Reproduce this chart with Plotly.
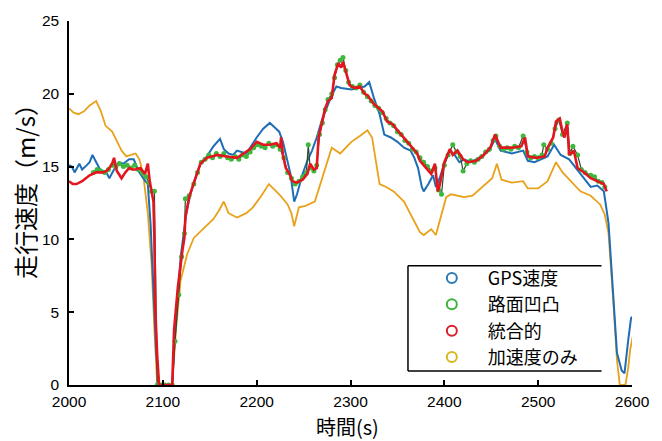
import plotly.graph_objects as go

# ---------------- data ----------------
series_names = ["GPS速度", "路面凹凸", "統合的", "加速度のみ"]

gps_t = [2000, 2003, 2006, 2009, 2011, 2014, 2016, 2019, 2022, 2025, 2029, 2034, 2039, 2043, 2048, 2053,
         2058, 2064, 2069, 2074, 2079, 2084, 2087, 2090, 2093, 2096, 2110, 2113, 2116, 2119, 2122, 2125,
         2129, 2133, 2140, 2147, 2154, 2161, 2165, 2170, 2175, 2179, 2189, 2200, 2207, 2214, 2219, 2224,
         2228, 2233, 2236, 2240, 2243, 2249, 2254, 2259, 2264, 2270, 2275, 2280, 2285, 2290, 2301, 2308,
         2315, 2320, 2325, 2331, 2336, 2343, 2350, 2357, 2364, 2368, 2372, 2376, 2378, 2383, 2388, 2391,
         2395, 2400, 2406, 2411, 2416, 2421, 2428, 2437, 2448, 2454, 2460, 2472, 2484, 2489, 2496, 2503,
         2510, 2517, 2524, 2533, 2540, 2549, 2556, 2563, 2570, 2575, 2580, 2584, 2589, 2592, 2596, 2599, 2601]
gps_v = [15.1, 15.0, 14.6, 15.0, 15.2, 14.8, 14.9, 15.1, 15.3, 15.8, 15.3, 14.7, 14.7, 14.2, 14.8, 15.3,
         15.2, 15.5, 15.5, 14.7, 14.2, 13.8, 11.0, 6.5, 2.0, 0.0, 0.0, 3.5, 6.2, 8.8, 10.3, 11.8,
         13.0, 13.9, 15.2, 15.7, 16.4, 16.9, 16.2, 15.9, 15.8, 16.1, 15.9, 17.0, 17.6, 18.0, 17.7, 17.4,
         16.7, 15.4, 14.5, 12.6, 13.1, 14.5, 15.4, 16.1, 17.0, 18.3, 19.1, 19.9, 20.5, 20.4, 20.3, 20.4,
         20.5, 20.8, 19.7, 18.6, 17.2, 17.0, 16.7, 16.3, 16.1, 15.6, 14.9, 13.6, 13.3, 13.8, 14.4, 13.6,
         14.2, 15.2, 16.1, 15.8, 15.3, 15.5, 15.3, 15.6, 16.1, 16.9, 16.1, 15.9, 16.1, 15.4, 15.3, 15.5,
         15.7, 16.5, 15.8, 15.5, 14.9, 14.2, 13.6, 13.7, 13.3, 11.1, 6.3, 2.2, 1.0, 0.8, 3.1, 4.6, 4.7]

road_t = [2026, 2030, 2034, 2038, 2042, 2046, 2050, 2054, 2058, 2062, 2066, 2070, 2074, 2078, 2082, 2085,
          2088, 2091, 2094, 2098, 2102, 2106, 2110, 2113, 2117, 2120, 2123, 2124, 2128, 2133, 2137, 2141,
          2145, 2149, 2153, 2157, 2161, 2165, 2169, 2173, 2177, 2181, 2185, 2189, 2193, 2197, 2201, 2205,
          2209, 2213, 2217, 2221, 2225, 2229, 2233, 2237, 2241, 2245, 2249, 2253, 2255, 2257, 2261, 2264,
          2267, 2270, 2273, 2276, 2280, 2283, 2286, 2289, 2292, 2295, 2298, 2302, 2306, 2310, 2314, 2318,
          2322, 2326, 2330, 2334, 2338, 2342, 2346, 2350, 2354, 2358, 2362, 2366, 2370, 2374, 2378, 2382,
          2386, 2390, 2394, 2397, 2400, 2404, 2409, 2413, 2417, 2420, 2424, 2428, 2432, 2436, 2440, 2444,
          2448, 2452, 2455, 2459, 2463, 2467, 2471, 2475, 2479, 2484, 2488, 2492, 2496, 2500, 2504, 2506,
          2510, 2514, 2518, 2522, 2526, 2531, 2534, 2537, 2542, 2546, 2550, 2556, 2560, 2564, 2568, 2571]
road_v = [14.6, 14.8, 14.7, 14.6, 14.8, 15.1, 15.0, 15.2, 15.0, 15.1, 14.9, 15.1, 14.8, 14.6, 14.3, 13.9,
          13.3, 13.3, 0.0, 0.0, 0.0, 0.0, 0.0, 3.0, 6.2, 8.8, 10.4, 12.8, 13.0, 13.8, 14.6, 15.3,
          15.5, 15.8, 15.6, 15.9, 15.7, 15.9, 15.6, 15.5, 15.7, 15.5, 15.8, 15.7, 16.0, 16.3, 16.5, 16.4,
          16.3, 16.6, 16.4, 16.5, 16.2, 15.6, 14.6, 14.2, 13.8, 14.0, 14.3, 14.6, 16.5, 14.9, 14.7, 15.1,
          17.2, 18.0, 18.9, 19.6, 20.0, 21.1, 22.0, 22.3, 22.5, 21.6, 20.8, 20.5, 20.4, 20.6, 20.1, 19.8,
          19.5, 19.2, 19.0, 18.7, 18.3, 18.0, 17.8, 17.4, 17.2, 16.8, 16.6, 16.2, 16.0, 15.6, 15.3, 15.0,
          14.7, 14.9, 13.4, 13.1, 15.1, 15.8, 16.5, 16.0, 15.7, 14.7, 15.2, 15.4, 15.3, 15.5, 15.7, 16.0,
          16.2, 16.8, 17.1, 16.4, 16.2, 16.3, 16.2, 16.4, 16.3, 17.1, 16.0, 15.6, 15.7, 15.6, 15.8, 16.5,
          16.2, 16.6, 17.6, 18.2, 17.2, 18.0, 15.9, 16.4, 15.8, 14.8, 14.6, 14.4, 14.3, 14.0, 13.9, 13.6]

fused_t = [2000, 2004, 2008, 2014, 2018, 2022, 2029, 2036, 2040, 2043, 2046, 2048, 2051, 2054, 2056, 2060,
           2064, 2068, 2071, 2076, 2081, 2084, 2086, 2088, 2090, 2091, 2092, 2094, 2096, 2110, 2112, 2116,
           2119, 2121, 2123, 2124, 2128, 2133, 2140, 2147, 2158, 2168, 2179, 2186, 2193, 2200, 2207, 2214,
           2221, 2225, 2226, 2228, 2231, 2235, 2238, 2243, 2249, 2254, 2257, 2261, 2264, 2266, 2270, 2273,
           2276, 2280, 2283, 2287, 2290, 2292, 2296, 2299, 2304, 2310, 2315, 2318, 2325, 2329, 2334, 2339,
           2345, 2350, 2355, 2360, 2365, 2371, 2374, 2381, 2386, 2390, 2393, 2395, 2400, 2406, 2409, 2414,
           2420, 2425, 2434, 2442, 2449, 2454, 2460, 2472, 2482, 2486, 2489, 2498, 2507, 2510, 2516, 2519,
           2523, 2526, 2528, 2531, 2533, 2538, 2542, 2549, 2556, 2563, 2570, 2573]
fused_v = [14.0, 13.8, 13.8, 14.0, 14.2, 14.4, 14.6, 14.6, 14.7, 14.9, 15.2, 15.6, 14.7, 14.4, 14.2, 14.6,
           14.9, 14.8, 14.8, 14.9, 14.5, 15.2, 14.0, 13.3, 12.6, 10.0, 5.2, 2.0, 0.0, 0.0, 3.8, 6.7,
           8.5, 9.3, 10.1, 11.5, 12.9, 13.8, 15.2, 15.6, 15.8, 15.7, 15.6, 15.9, 16.2, 16.7, 16.5, 16.5,
           16.6, 16.3, 17.0, 15.8, 14.9, 14.5, 14.0, 13.9, 14.1, 14.5, 15.2, 14.8, 14.9, 17.0, 18.1, 19.0,
           19.5, 19.7, 21.3, 22.1, 21.8, 22.2, 21.3, 20.6, 20.4, 20.5, 20.0, 19.9, 19.3, 19.1, 18.8, 18.1,
           17.9, 17.5, 17.1, 16.7, 16.3, 15.9, 15.4, 14.9, 14.5, 15.2, 13.3, 13.7, 15.3, 16.2, 15.8, 16.1,
           15.5, 15.3, 15.4, 15.8, 16.3, 17.2, 16.3, 16.3, 16.4, 17.0, 15.7, 15.6, 15.7, 16.3, 17.0, 18.1,
           18.3, 17.4, 17.0, 17.9, 15.8, 16.1, 14.9, 14.6, 14.2, 14.0, 13.8, 13.3]

accel_t = [2000, 2005, 2010, 2016, 2022, 2029, 2034, 2039, 2046, 2051, 2056, 2061, 2066, 2071, 2075, 2079,
           2084, 2088, 2091, 2094, 2110, 2114, 2119, 2126, 2133, 2144, 2154, 2160, 2165, 2170, 2179, 2189,
           2196, 2205, 2213, 2224, 2233, 2237, 2240, 2245, 2252, 2262, 2271, 2280, 2289, 2301, 2310, 2318,
           2323, 2331, 2338, 2346, 2357, 2364, 2374, 2378, 2386, 2391, 2397, 2402, 2407, 2413, 2421, 2430,
           2439, 2451, 2456, 2461, 2472, 2484, 2489, 2500, 2510, 2519, 2526, 2535, 2545, 2556, 2566, 2571,
           2575, 2580, 2584, 2587, 2593, 2596, 2598, 2601]
accel_v = [19.0, 18.7, 18.6, 18.8, 19.2, 19.5, 18.8, 17.8, 17.4, 16.7, 16.1, 15.7, 15.8, 15.9, 15.5, 14.5,
           11.8, 8.3, 3.8, 0.0, 0.0, 3.8, 7.2, 9.0, 10.1, 10.8, 11.4, 12.0, 12.6, 11.8, 11.5, 11.8,
           12.2, 13.0, 13.8, 13.1, 12.4, 11.8, 10.9, 12.2, 12.3, 12.6, 14.5, 16.3, 15.9, 16.7, 17.1, 17.5,
           17.0, 13.8, 13.6, 13.3, 12.6, 11.7, 10.5, 10.3, 10.7, 10.3, 11.7, 12.9, 13.1, 13.0, 12.9, 13.0,
           13.5, 14.2, 15.2, 14.1, 13.9, 14.0, 13.5, 13.5, 14.0, 15.3, 14.6, 14.0, 13.3, 13.0, 12.4, 11.7,
           10.4, 5.8, 1.7, 0.0, 0.0, 1.2, 2.4, 3.4]

x_ticks = [2000, 2100, 2200, 2300, 2400, 2500, 2600]
y_ticks = [0, 5, 10, 15, 20, 25]

# ---------------- style ----------------
C_BLUE = "#1f6db5"
C_GREEN = "#3cb83c"
C_RED = "#e3161f"
C_YEL = "#e8a21a"
LEG_COLORS = ["#2a7ab8", "#3cb43c", "#d81f2a", "#d8b820"]

fig = go.Figure()

fig.add_trace(go.Scatter(x=accel_t, y=accel_v, mode="lines", line=dict(color=C_YEL, width=1.8),
                         showlegend=False))
fig.add_trace(go.Scatter(x=gps_t, y=gps_v, mode="lines", line=dict(color=C_BLUE, width=2),
                         showlegend=False))
fig.add_trace(go.Scatter(x=road_t, y=road_v, mode="lines+markers",
                         line=dict(color="#2b4a2b", width=1.2),
                         marker=dict(color=C_GREEN, size=5, symbol="circle"),
                         showlegend=False))
fig.add_trace(go.Scatter(x=fused_t, y=fused_v, mode="lines", line=dict(color=C_RED, width=2.6),
                         showlegend=False))

# legend entries (open circles)
for name, col in zip(series_names, LEG_COLORS):
    fig.add_trace(go.Scatter(x=[None], y=[None], mode="markers", name=name,
                             marker=dict(symbol="circle-open", size=10, color=col, line=dict(width=2, color=col))))

L, R, T, B = 69, 20, 19, 56
W, H = 662, 441
pw, ph = W - L - R, H - T - B

def px2x(px):
    return (px - L) / pw

def py2y(py):
    return (H - B - py) / ph

axis_common = dict(showgrid=False, zeroline=False, showline=True, linecolor="black", linewidth=1.5,
                   ticks="inside", ticklen=5, tickwidth=1.5, tickcolor="black",
                   tickfont=dict(family="Liberation Sans, Arial, sans-serif", size=15.5, color="black"),
                   mirror=False)

fig.update_layout(
    width=W, height=H,
    margin=dict(l=L, r=R, t=T, b=B),
    paper_bgcolor="white", plot_bgcolor="white",
    xaxis=dict(range=[2000, 2600], tickvals=x_ticks, ticktext=[str(v) for v in x_ticks],
               ticklabelstandoff=2, **axis_common),
    yaxis=dict(range=[0, 25], tickvals=y_ticks, ticktext=[str(v) for v in y_ticks],
               ticklabelstandoff=5, **axis_common),
    legend=dict(x=px2x(422), y=py2y(259), xanchor="left", yanchor="top",
                bgcolor="rgba(0,0,0,0)", borderwidth=0, itemwidth=62,
                font=dict(family="Noto Sans CJK JP", size=18, color="black"),
                tracegroupgap=0),
    shapes=[
        dict(type="line", xref="paper", yref="paper", x0=px2x(414), x1=px2x(611), y0=py2y(265), y1=py2y(265),
             line=dict(color="black", width=1.5)),
        dict(type="line", xref="paper", yref="paper", x0=px2x(414), x1=px2x(611), y0=py2y(371), y1=py2y(371),
             line=dict(color="black", width=1.5)),
        dict(type="line", xref="paper", yref="paper", x0=px2x(414), x1=px2x(414), y0=py2y(265), y1=py2y(371),
             line=dict(color="black", width=1.5)),
    ],
    annotations=[
        dict(text="時間(s)", xref="paper", yref="paper", x=px2x(352), y=py2y(427),
             xanchor="center", yanchor="middle", showarrow=False,
             font=dict(family="Noto Sans CJK JP", size=20, color="black")),
        dict(text="走行速度（m/s）", xref="paper", yref="paper", x=px2x(23), y=py2y(184),
             xanchor="center", yanchor="middle", showarrow=False, textangle=-90,
             font=dict(family="Noto Sans CJK JP", size=24, color="black")),
    ],
)

fig.write_html("out.html", config={"displayModeBar": False},
               post_script="document.body.style.margin='0px';document.body.style.overflow='hidden';")
